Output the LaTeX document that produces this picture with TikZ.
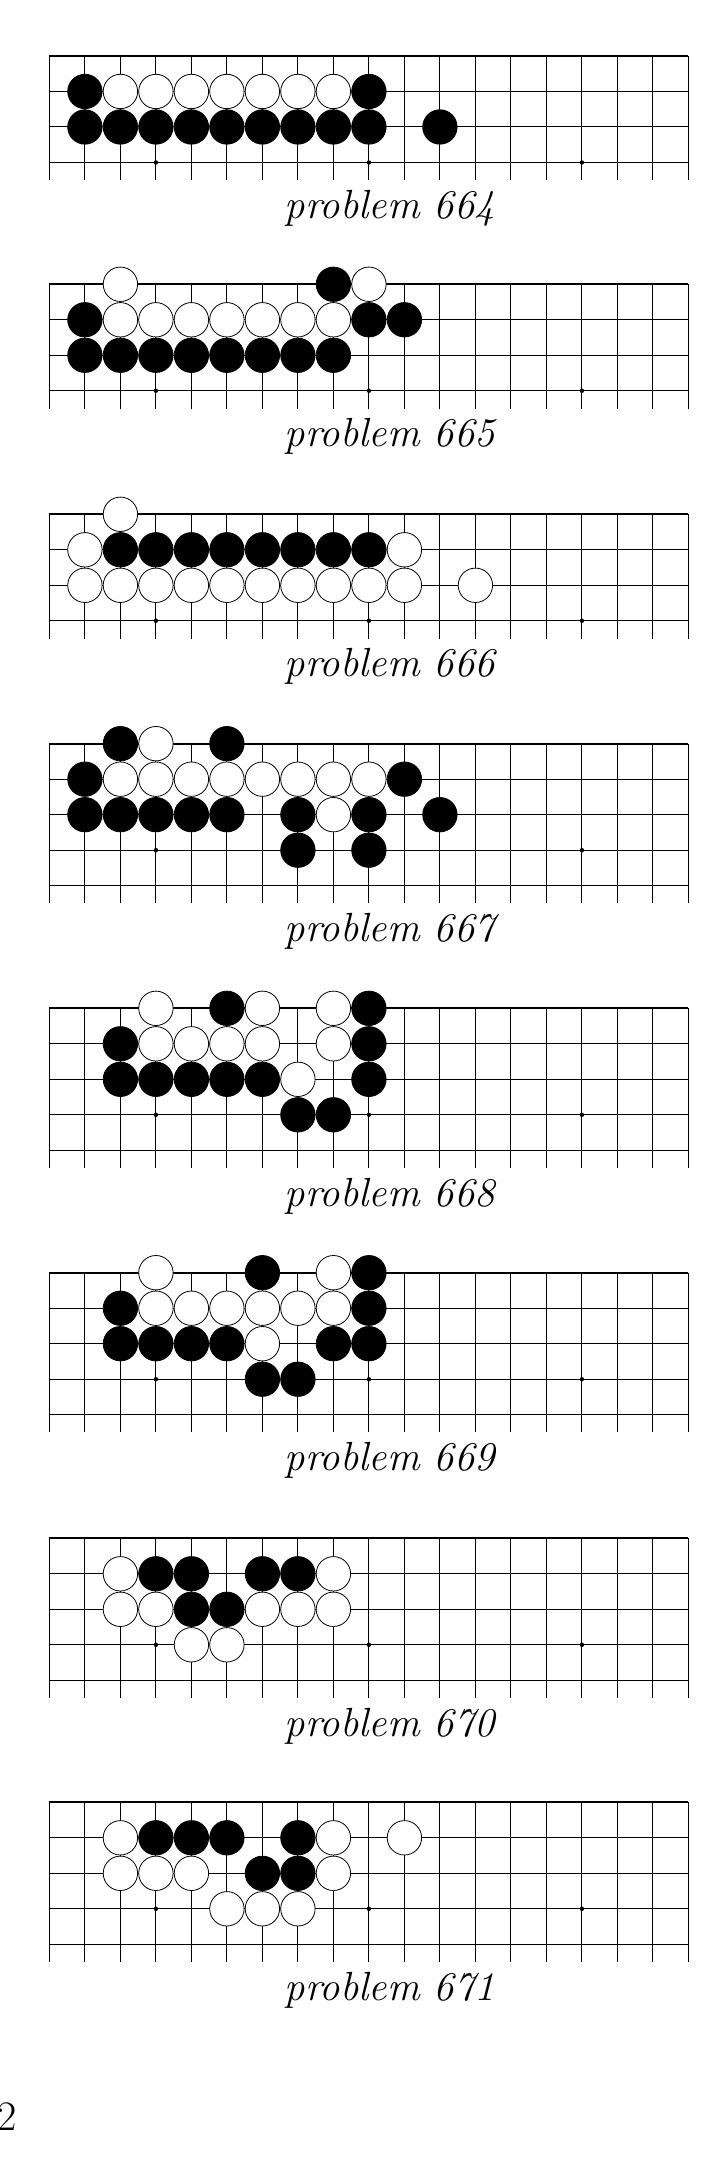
\documentclass[tikz,border=0pt]{standalone}
\usepackage{fontspec}

\newcommand{\goboardgrid}[2]{%
	\foreach \c in {1,...,17} \draw[gridline] (\c,0) -- (\c,-#2-0.5);
	\foreach \r in {1,...,#2} \draw[gridline] (0,-\r) -- (18,-\r);
	\draw[sideline] (0,0) -- (0,-#2-0.5) (18,0) -- (18,-#2-0.5);
	\draw[edgeline] (0,0) -- (18,0);
	\foreach \c in {3,9,15} \node[hoshi] (#1-hoshi-\c) at (\c,-3) {};
}

\begin{document}
\begin{tikzpicture}[
	x=17.75pt, y=17.75pt,
	gridline/.style={line width=.5pt},
	sideline/.style={line width=.8pt},
	edgeline/.style={line width=1.1pt},
	hoshi/.style={circle, fill=black, inner sep=0pt, minimum size=2.2pt},
	blackstone/.style={circle, draw, line width=.4pt, fill=black, inner sep=0pt, minimum size=17.2pt},
	whitestone/.style={circle, draw, line width=.4pt, fill=white, inner sep=0pt, minimum size=17.2pt},
	problabel/.style={font=\fontsize{20.35}{24}\selectfont\itshape, anchor=base, inner sep=0pt}
	]
	\useasboundingbox (0,0) rectangle (20.423,-61.437);
	
	\begin{scope}[shift={(1.392,-1.577)}]
		\goboardgrid{p664}{3}
		\foreach \c in {1,...,9} \node[blackstone] (p664-b\c-2) at (\c,-2) {};
		\foreach \c/\r in {1/1,9/1,11/2} \node[blackstone] (p664-b\c-\r) at (\c,-\r) {};
		\foreach \c in {2,...,8} \node[whitestone] (p664-w\c-1) at (\c,-1) {};
		\node[problabel] (label-664) at (9.59,-4.575) {problem 664};
	\end{scope}
	
	\begin{scope}[shift={(1.392,-8.008)}]
		\goboardgrid{p665}{3}
		\foreach \c in {1,...,8} \node[blackstone] (p665-b\c-2) at (\c,-2) {};
		\foreach \c/\r in {8/0,1/1,9/1,10/1} \node[blackstone] (p665-b\c-\r) at (\c,-\r) {};
		\foreach \c in {2,...,8} \node[whitestone] (p665-w\c-1) at (\c,-1) {};
		\foreach \c/\r in {2/0,9/0} \node[whitestone] (p665-w\c-\r) at (\c,-\r) {};
		\node[problabel] (label-665) at (9.59,-4.575) {problem 665};
	\end{scope}
	
	\begin{scope}[shift={(1.392,-14.487)}]
		\goboardgrid{p666}{3}
		\foreach \c in {2,...,9} \node[blackstone] (p666-b\c-1) at (\c,-1) {};
		\foreach \c in {1,...,10} \node[whitestone] (p666-w\c-2) at (\c,-2) {};
		\foreach \c/\r in {2/0,1/1,10/1,12/2} \node[whitestone] (p666-w\c-\r) at (\c,-\r) {};
		\node[problabel] (label-666) at (9.59,-4.575) {problem 666};
	\end{scope}
	
	\begin{scope}[shift={(1.392,-20.949)}]
		\goboardgrid{p667}{4}
		\foreach \c in {1,...,5} \node[blackstone] (p667-b\c-2) at (\c,-2) {};
		\foreach \c/\r in {2/0,5/0,1/1,10/1,7/2,9/2,11/2,7/3,9/3} \node[blackstone] (p667-b\c-\r) at (\c,-\r) {};
		\foreach \c in {2,...,9} \node[whitestone] (p667-w\c-1) at (\c,-1) {};
		\foreach \c/\r in {3/0,8/2} \node[whitestone] (p667-w\c-\r) at (\c,-\r) {};
		\node[problabel] (label-667) at (9.59,-5.585) {problem 667};
	\end{scope}
	
	\begin{scope}[shift={(1.392,-28.403)}]
		\goboardgrid{p668}{4}
		\foreach \c in {2,...,6} \node[blackstone] (p668-b\c-2) at (\c,-2) {};
		\foreach \c/\r in {5/0,9/0,2/1,9/1,9/2,7/3,8/3} \node[blackstone] (p668-b\c-\r) at (\c,-\r) {};
		\foreach \c in {3,...,6} \node[whitestone] (p668-w\c-1) at (\c,-1) {};
		\foreach \c/\r in {3/0,6/0,8/0,8/1,7/2} \node[whitestone] (p668-w\c-\r) at (\c,-\r) {};
		\node[problabel] (label-668) at (9.59,-5.585) {problem 668};
	\end{scope}
	
	\begin{scope}[shift={(1.392,-35.851)}]
		\goboardgrid{p669}{4}
		\foreach \c in {2,...,5} \node[blackstone] (p669-b\c-2) at (\c,-2) {};
		\foreach \c/\r in {6/0,9/0,2/1,9/1,8/2,9/2,6/3,7/3} \node[blackstone] (p669-b\c-\r) at (\c,-\r) {};
		\foreach \c in {3,...,8} \node[whitestone] (p669-w\c-1) at (\c,-1) {};
		\foreach \c/\r in {3/0,8/0,6/2} \node[whitestone] (p669-w\c-\r) at (\c,-\r) {};
		\node[problabel] (label-669) at (9.59,-5.585) {problem 669};
	\end{scope}
	
	\begin{scope}[shift={(1.392,-43.332)}]
		\goboardgrid{p670}{4}
		\foreach \c/\r in {3/1,4/1,6/1,7/1,4/2,5/2} \node[blackstone] (p670-b\c-\r) at (\c,-\r) {};
		\foreach \c/\r in {2/1,8/1,2/2,3/2,6/2,7/2,8/2,4/3,5/3} \node[whitestone] (p670-w\c-\r) at (\c,-\r) {};
		\node[problabel] (label-670) at (9.59,-5.585) {problem 670};
	\end{scope}
	
	\begin{scope}[shift={(1.392,-50.769)}]
		\goboardgrid{p671}{4}
		\foreach \c/\r in {3/1,4/1,5/1,7/1,6/2,7/2} \node[blackstone] (p671-b\c-\r) at (\c,-\r) {};
		\foreach \c/\r in {2/1,8/1,10/1,2/2,3/2,4/2,8/2,5/3,6/3,7/3} \node[whitestone] (p671-w\c-\r) at (\c,-\r) {};
		\node[problabel] (label-671) at (9.59,-5.585) {problem 671};
	\end{scope}
	
	\node[font=\fontsize{21}{25}\selectfont, anchor=base east, inner sep=0pt] (pagenum) at (0.479,-60.0) {2};
\end{tikzpicture}
\end{document}
